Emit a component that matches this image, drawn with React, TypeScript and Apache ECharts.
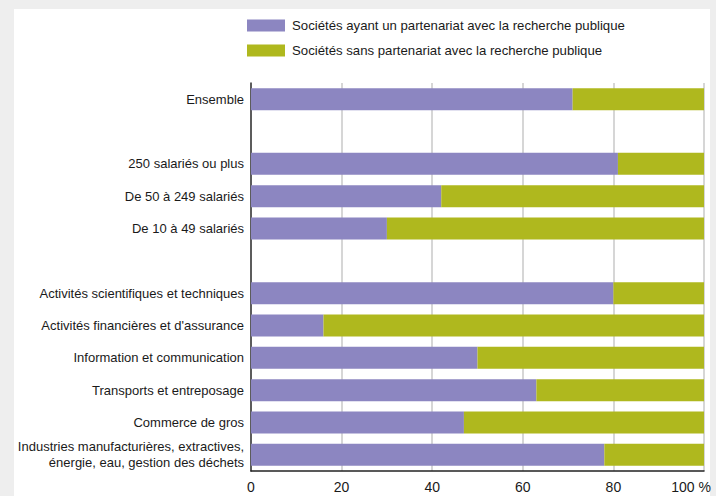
import React, { useEffect, useRef } from "react";
import * as echarts from "echarts";

const categories = [
  "Ensemble",
  " ",
  "250 salariés ou plus",
  "De 50 à 249 salariés",
  "De 10 à 49 salariés",
  "  ",
  "Activités scientifiques et techniques",
  "Activités financières et d'assurance",
  "Information et communication",
  "Transports et entreposage",
  "Commerce de gros",
  "Industries manufacturières, extractives,\nénergie, eau, gestion des déchets",
];

const withPartner = [71, null, 81, 42, 30, null, 80, 16, 50, 63, 47, 78];
const withoutPartner = [29, null, 19, 58, 70, null, 20, 84, 50, 37, 53, 22];

const seriesNames = [
  "Sociétés ayant un partenariat avec la recherche publique",
  "Sociétés sans partenariat avec la recherche publique",
];

const FONT = "'Liberation Sans', Arial, sans-serif";

export default function App() {
  const ref = useRef<HTMLDivElement>(null);
  useEffect(() => {
    if (!ref.current) return;
    const chart = echarts.init(ref.current, null, { renderer: "svg" });
    chart.setOption({
      animation: false,
      backgroundColor: "#eeeeee",
      textStyle: { fontFamily: FONT },
      graphic: [
        {
          type: "rect",
          z: -10,
          silent: true,
          shape: { x: 14, y: 9, width: 696, height: 500 },
          style: { fill: "#ffffff" },
        },
      ],
      legend: {
        orient: "vertical",
        left: 247,
        top: 19,
        itemWidth: 38,
        itemHeight: 12,
        itemGap: 12,
        icon: "rect",
        padding: 0,
        textStyle: { fontSize: 13.2, color: "#1a1a1a", fontFamily: FONT, padding: [0, 0, 0, 2] },
        data: seriesNames,
      },
      grid: { left: 251, right: 12, top: 83, bottom: 25, containLabel: false },
      xAxis: {
        type: "value",
        min: 0,
        max: 100,
        interval: 20,
        axisLine: { show: true, lineStyle: { color: "#222", width: 1.5 } },
        axisTick: { show: false },
        splitLine: { show: true, lineStyle: { color: "#c8c8c8", width: 1.5 } },
        axisLabel: {
          fontSize: 14,
          color: "#1a1a1a",
          margin: 9,
          fontFamily: FONT,
          formatter: (v: number) => (v === 100 ? "{p|100 %}" : String(v)),
          rich: { p: { fontSize: 14, color: "#1a1a1a", fontFamily: FONT, padding: [0, 26, 0, 0] } },
        },
      },
      yAxis: {
        type: "category",
        inverse: true,
        data: categories,
        axisLine: { show: true, lineStyle: { color: "#333", width: 1.5 } },
        axisTick: { show: false },
        axisLabel: {
          fontSize: 13,
          color: "#1a1a1a",
          margin: 7,
          lineHeight: 16,
          fontFamily: FONT,
        },
      },
      series: [
        {
          name: seriesNames[0],
          type: "bar",
          stack: "total",
          barCategoryGap: "32%",
          data: withPartner,
          itemStyle: { color: "#8c86c1" },
        },
        {
          name: seriesNames[1],
          type: "bar",
          stack: "total",
          barCategoryGap: "32%",
          data: withoutPartner,
          itemStyle: { color: "#afb81e" },
        },
      ],
    });
    return () => chart.dispose();
  }, []);
  return (
    <div
      ref={ref}
      style={{ position: "absolute", left: 0, top: 0, width: 716, height: 496 }}
    />
  );
}
